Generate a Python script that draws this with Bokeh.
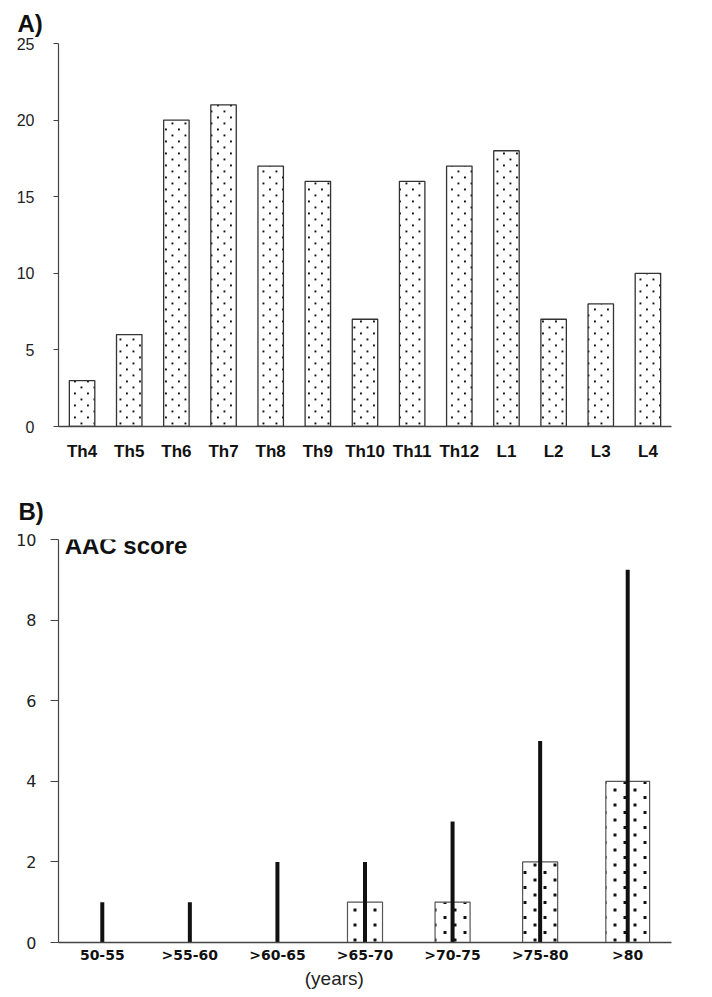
import base64
from bokeh.plotting import figure
from bokeh.layouts import column
from bokeh.core.properties import value
from bokeh.models import (FactorRange, Range1d, FixedTicker, Label, ColumnDataSource,
                          LinearAxis, ImageURLTexture)
from bokeh.embed import file_html
from bokeh.resources import INLINE

# ---- data ----
vertebrae = ["Th4", "Th5", "Th6", "Th7", "Th8", "Th9", "Th10", "Th11", "Th12", "L1", "L2", "L3", "L4"]
counts = [3, 6, 20, 21, 17, 16, 7, 16, 17, 18, 7, 8, 10]
a_ticks = [0, 5, 10, 15, 20, 25]

age_groups = ["50-55", ">55-60", ">60-65", ">65-70", ">70-75", ">75-80", ">80"]
aac_median = [0, 0, 0, 1, 1, 2, 4]
aac_max = [1, 1, 2, 2, 3, 5, 9.25]
b_ticks = [0, 2, 4, 6, 8, 10]

# ---- styling ----
bar_widths_b = [0.4, 0.4, 0.4, 0.4, 0.4, 0.4, 0.5]
SANS = "Liberation Sans"
WIDE = "DejaVu Sans"
AXIS_COL = "#444444"


def svg_tile(w, h, dots, s):
    rects = "".join(f'<rect x="{x}" y="{y}" width="{s}" height="{s}" fill="#111"/>' for x, y in dots)
    svg = f'<svg xmlns="http://www.w3.org/2000/svg" width="{w}" height="{h}">{rects}</svg>'
    return "data:image/svg+xml;base64," + base64.b64encode(svg.encode()).decode()


tex_a = ImageURLTexture(url=svg_tile(13, 12, [(2.5, 2.5), (9, 8.5)], 1.9))
tex_b = ImageURLTexture(url=svg_tile(20, 15, [(3.5, 3), (13.5, 10.5)], 3))


def base_axes(p):
    p.xgrid.visible = False
    p.ygrid.visible = False
    p.outline_line_color = None
    p.background_fill_color = "white"
    p.border_fill_color = "white"


def style_title(p, standoff, offset):
    p.title.text_font = SANS
    p.title.text_font_size = "24px"
    p.title.text_font_style = "bold"
    p.title.text_color = "#111111"
    p.title.align = "left"
    p.title.offset = offset
    p.title.standoff = standoff


# ---- Panel A ----
pA = figure(x_range=FactorRange(*vertebrae), y_range=Range1d(0, 25),
            width=710, height=478, output_backend="svg", toolbar_location=None,
            min_border_left=58, min_border_right=5, min_border_top=43, min_border_bottom=52,
            title="A)")
base_axes(pA)
style_title(pA, 14, -41)
srcA = ColumnDataSource(dict(cat=vertebrae, val=counts))
pA.vbar(x="cat", top="val", width=0.54, source=srcA, fill_color="white",
        line_color="#333333", line_width=1.3,
        hatch_pattern=value("dotsA"), hatch_extra={"dotsA": tex_a})

pA.yaxis.ticker = FixedTicker(ticks=a_ticks)
pA.yaxis.axis_line_color = AXIS_COL
pA.yaxis.axis_line_width = 1.2
pA.yaxis.major_tick_line_color = AXIS_COL
pA.yaxis.major_tick_out = 5
pA.yaxis.major_tick_in = 0
pA.yaxis.minor_tick_line_color = None
pA.yaxis.major_label_standoff = 19
pA.yaxis.major_label_text_font = SANS
pA.yaxis.major_label_text_font_size = "16px"
pA.yaxis.major_label_text_color = "#222222"

pA.xaxis.axis_line_color = AXIS_COL
pA.xaxis.axis_line_width = 1.4
pA.xaxis.major_tick_line_color = None
pA.xaxis.major_tick_out = 0
pA.xaxis.major_label_standoff = 15
pA.xaxis.major_label_text_font = SANS
pA.xaxis.major_label_text_font_size = "17px"
pA.xaxis.major_label_text_font_style = "bold"
pA.xaxis.major_label_text_color = "#111111"

# ---- Panel B ----
pB = figure(x_range=FactorRange(*age_groups), y_range=Range1d(0, 10),
            width=710, height=517, output_backend="svg", toolbar_location=None,
            min_border_left=57, min_border_right=39, min_border_top=61, min_border_bottom=53,
            title="B)")
base_axes(pB)
style_title(pB, 29, -40)
srcB = ColumnDataSource(dict(cat=age_groups, med=aac_median, mx=aac_max, w=bar_widths_b))
pB.vbar(x="cat", top="med", width="w", source=srcB, fill_color="white",
        line_color="#555555", line_width=1.2,
        hatch_pattern=value("dotsB"), hatch_extra={"dotsB": tex_b})
pB.segment(x0="cat", y0=0, x1="cat", y1="mx", source=srcB,
           line_color="#111111", line_width=4)

pB.yaxis.ticker = FixedTicker(ticks=b_ticks)
pB.yaxis.axis_line_color = AXIS_COL
pB.yaxis.axis_line_width = 1.2
pB.yaxis.major_tick_line_color = AXIS_COL
pB.yaxis.major_tick_out = 8
pB.yaxis.major_tick_in = 0
pB.yaxis.minor_tick_line_color = None
pB.yaxis.major_label_standoff = 14
pB.yaxis.major_label_text_font = WIDE
pB.yaxis.major_label_text_font_size = "16px"
pB.yaxis.major_label_text_color = "#222222"

pB.xaxis.axis_line_color = AXIS_COL
pB.xaxis.axis_line_width = 1.4
pB.xaxis.major_tick_line_color = None
pB.xaxis.major_tick_out = 0
pB.xaxis.major_label_standoff = 4
pB.xaxis.major_label_text_font = WIDE
pB.xaxis.major_label_text_font_size = "14px"
pB.xaxis.major_label_text_font_style = "bold"
pB.xaxis.major_label_text_color = "#111111"

# "(years)" as a second, line-less axis below, slightly left of centre like the original
yrs_pos = 3.15
yrs_axis = LinearAxis(ticker=FixedTicker(ticks=[yrs_pos]),
                      major_label_overrides={yrs_pos: "(years)"},
                      axis_line_color=None, major_tick_line_color=None,
                      minor_tick_line_color=None, major_tick_out=0, major_tick_in=0,
                      major_label_standoff=2, major_label_text_font=SANS,
                      major_label_text_font_size="19px", major_label_text_color="#222222")
pB.add_layout(yrs_axis, "below")

pB.add_layout(Label(x=0.07, y=9.84, text="AAC score", text_align="left",
                    text_baseline="middle", text_font=SANS, text_font_size="24px",
                    text_font_style="bold", text_color="#111111"))

layout = column(pA, pB, spacing=0)
open("out.html", "w").write(file_html(layout, INLINE))
